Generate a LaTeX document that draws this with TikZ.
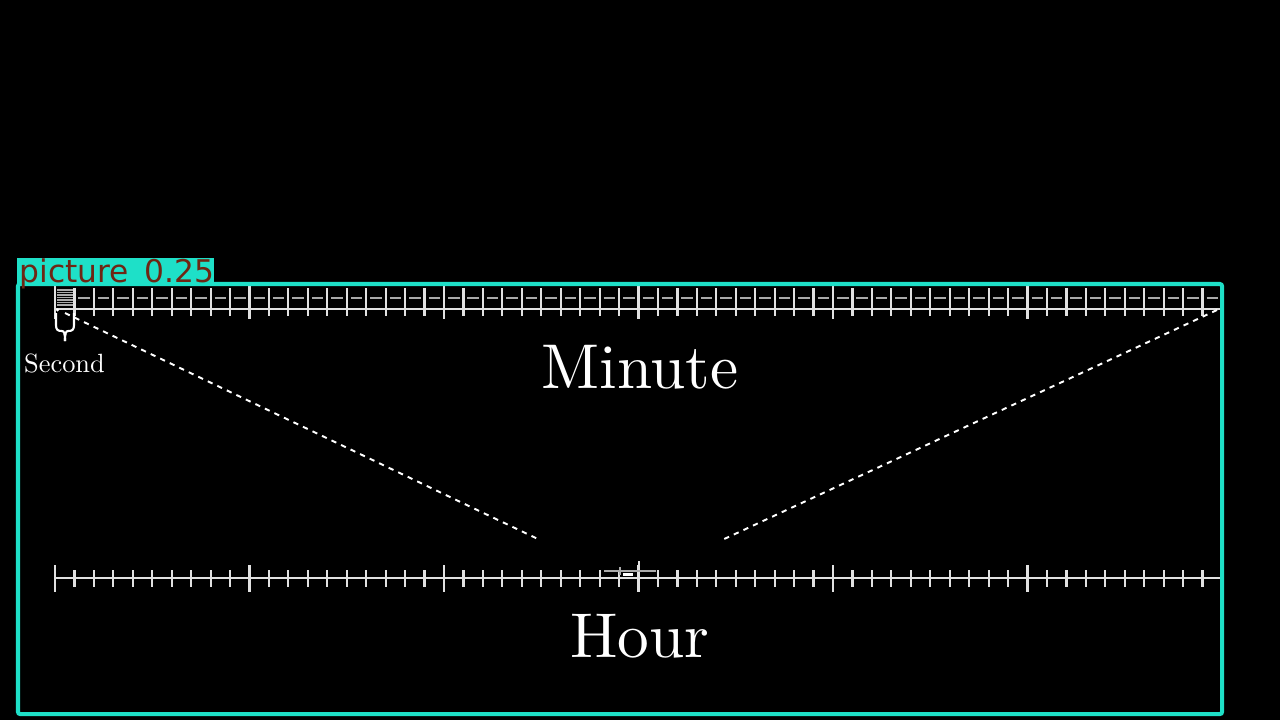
\documentclass[tikz,border=0pt]{standalone}
\usepackage{fontspec}
\newfontfamily\labelfont{DejaVu Sans}
\newfontfamily\lmten{lmroman10-regular.otf}
\usetikzlibrary{calc}
\definecolor{boxcyan}{RGB}{30,224,200}
\definecolor{labelred}{RGB}{110,38,20}
\definecolor{linegray}{RGB}{225,225,225}
\definecolor{dashgray}{RGB}{170,170,170}
\begin{document}
\begin{tikzpicture}[x=0.01cm,y=-0.01cm,
  tickline/.style={draw=linegray,line width=0.62pt},
  axisline/.style={draw=linegray,line width=0.6pt},
  subdash/.style={draw=dashgray,line width=0.5pt},
  zoomline/.style={draw=white,dashed,dash pattern=on 1.5pt off 1.5pt,line width=0.55pt},
  bigtext/.style={text=white,font=\lmten\fontsize{18}{20}\selectfont,inner sep=0pt,anchor=base},
  smalltext/.style={text=white,font=\lmten\fontsize{7.5}{9}\selectfont,inner sep=0pt,anchor=base},
  detbox/.style={draw=boxcyan,line width=1.15pt,rounded corners=0.6pt},
  detlabel/.style={fill=boxcyan,inner sep=0pt,anchor=south west,minimum width=197*0.01cm,minimum height=27*0.01cm}]
% background
\fill[black] (0,0) rectangle (1280,720);
\useasboundingbox (0,0) rectangle (1280,720);

% ---------- Minute number line (top) ----------
\draw[axisline] (55,309) -- (1222,309);
\foreach \i in {0,...,60}{
  \pgfmathsetmacro\xx{55+19.45*\i}
  \pgfmathtruncatemacro\m{mod(\i,10)}
  \ifnum\m=0
    \draw[tickline] (\xx,286) -- (\xx,319);
  \else
    \draw[tickline] (\xx,288) -- (\xx,316);
  \fi
}
\foreach \i in {1,...,59}{
  \pgfmathsetmacro\xa{55+19.45*\i+4}
  \pgfmathsetmacro\xb{55+19.45*\i+15.5}
  \draw[subdash] (\xa,298) -- (\xb,298);
}
% first (zoomed) second interval, densely filled
\foreach \yy in {290,292.5,...,305}{
  \draw[draw=dashgray,line width=0.3pt] (57,\yy) -- (73,\yy);
}
\fill[white] (57.5,310) circle (1.6);

% brace under first second
\draw[white,line width=0.6pt,line join=round]
  (56,313) -- (56,325) .. controls (56,330) and (58,331) .. (62,331)
  .. controls (64,331) and (65,333) .. (65,341);
\draw[white,line width=0.6pt,line join=round]
  (74,313) -- (74,325) .. controls (74,330) and (72,331) .. (68,331)
  .. controls (66,331) and (65,333) .. (65,341);
\node[smalltext] (second) at (64.5,372) {Second};

% ---------- Hour number line (bottom) ----------
\draw[axisline] (55,578) -- (1222,578);
\foreach \i in {0,...,60}{
  \pgfmathsetmacro\xx{55+19.45*\i}
  \pgfmathtruncatemacro\m{mod(\i,10)}
  \ifnum\m=0
    \draw[tickline] (\xx,565) -- (\xx,592);
  \else
    \draw[tickline] (\xx,570) -- (\xx,587);
  \fi
}
% compressed minute inside the hour line
\draw[draw=dashgray,line width=0.45pt] (604,571) -- (656,571);
\draw[draw=dashgray,line width=0.3pt] (620,567) -- (620,575);
\draw[draw=white,line width=0.7pt] (623,574.5) -- (633,574.5);
\draw[tickline] (639,561) -- (639,565);

% ---------- zoom lines ----------
\coordinate (minL) at (65,313);
\coordinate (minR) at (1217,310);
\coordinate (hourL) at (540,540);
\coordinate (hourR) at (722,540);
\draw[zoomline] (minL) -- (hourL);
\draw[zoomline] (minR) -- (hourR);

% ---------- labels ----------
\node[bigtext] (minute) at (640,388) {Minute};
\node[bigtext] (hour) at (640,657) {Hour};

% ---------- detection overlay ----------
\draw[detbox] (18,284) rectangle (1222,714);
\node[detlabel] (det) at (16.5,285.5) {};
\node[text=labelred,font=\labelfont\fontsize{8.9}{10}\selectfont,inner sep=0pt,anchor=base west] (dettext) at (19,282) {picture\hspace{1.5pt} 0.25};
\end{tikzpicture}
\end{document}
